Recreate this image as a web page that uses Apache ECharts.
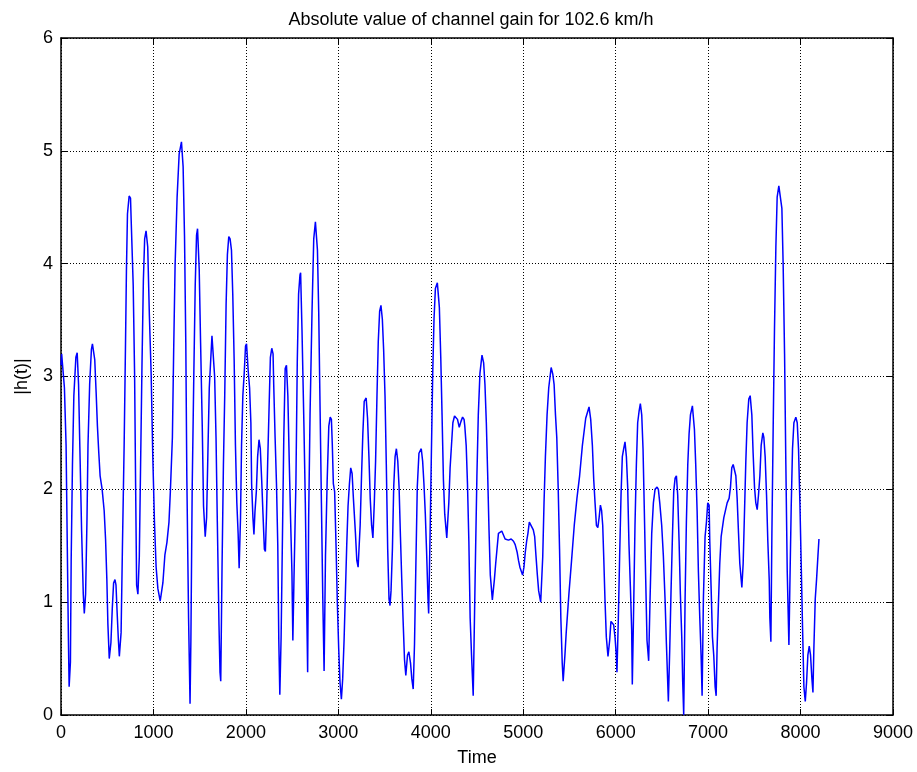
<!DOCTYPE html>
<html>
<head>
<meta charset="utf-8">
<script src="https://cdn.jsdelivr.net/npm/echarts@6/dist/echarts.min.js"></script>
<style>
  html, body { margin: 0; padding: 0; background: #ffffff; }
  #chart { width: 917px; height: 772px; }
</style>
</head>
<body>
<div id="chart"></div>
<script>
// Channel gain magnitude |h(t)| over time samples
const titleText = 'Absolute value of channel gain for 102.6 km/h';
const xName = 'Time';
const yName = '|h(t)|';

const xTicks = [0, 1000, 2000, 3000, 4000, 5000, 6000, 7000, 8000, 9000];
const yTicks = [0, 1, 2, 3, 4, 5, 6];

const time = [
  0,7,37,55,66,80,88,102,110,124, 139,161,175,190,204,223,241,252,266,281,
  292,310,329,340,365,380,394,409,423,445, 467,482,496,507,522,540,555,569,584,595,
  606,621,631,650,664,683,697,708,719,737, 752,759,781,796,807,818,832,847,861,876,
  891,905,920,938,956,975,993,1011,1029,1048, 1073,1102,1124,1146,1168,1183,1205,1219,1234,1256,
  1278,1303,1321,1336,1350,1361,1380,1396,
  1405,1419,1437,1452,1466,1477,1495,1510,1528,1542, 1560,1575,1590,1604,1619,1633,1648,1662,1677,1691,
  1709,1720,1728,1742,1757,1771,1786,1800,1815,1829, 1844,1858,1873,1887,1902,1916,1927,1942,1953,1967,
  1982,1996,2007,2025,2040,2054,2062,2076,2087,2098, 2113,2127,2142,2156,2171,2185,2200,2211,2222,2236,
  2251,2265,2280,2294,2301,2316,2331,2345,2356,2367, 2381,2396,2410,2425,2439,2454,2469,2483,2498,2508,
  2520,2541,2556,2570,2585,2592,2607,2628,2643,2657, 2668,2679,2694,2715,2734,2752,2774,2788,2803,2817,
  2832,2846,2861,2879,2897,2912,
  2925,2935,2946,2960,2975,2989,3004,3018,3033,3047, 3062,3076,3091,3105,3120,3134,3149,3163,3185,3200,
  3214,3236,3251,3265,3280,3301,3316,3331,3345,3360, 3374,3389,3403,3418,3432,3447,3461,3476,3490,3505,
  3519,3534,3548,3559,3570,3585,3599,3614,3628,3643, 3657,3672,3686,3701,3716,3730,3748,3763,3781,3795,
  3810,3824,3839,3854,3872,3897,3912,3926,3941,3955, 3970,3977,3992,4006,4021,4035,4050,4071,4093,4108,
  4122,4137,4151,4173,4195,4209,4224,4239,4257,4289, 4308,4326,4344,4360,
  4368,4383,4397,4412,4426,4441,4459,4470,4485,4499, 4514,4532,4554,4572,4586,4601,4615,4630,4644,4666,
  4688,4702,4732,4768,4804,4840,4870,4895,4913,4935, 4949,4964,4993,5008,5022,5037,5051,5066,5087,5109,
  5124,5138,5153,5167,5189,5211,5225,5240,5258,5276, 5302,5320,5334,5349,5363,5378,5393,5407,5422,5432,
  5451,5465,5494,5523,5552,5581,5610,5640,5676,5712, 5730,5748,5763,5777,5792,5807,5821,
  5835,5848,5860,5872,5884,5899,5917,5935,5949,5964, 5978,5993,6007,6014,6029,6043,6058,6072,6087,6101,
  6116,6130,6144,6159,6173,6180,6195,6209,6224,6238, 6253,6267,6282,6296,6310,6325,6339,6357,6372,6390,
  6408,6426,6448,6462,6477,6498,6516,6534,6549,6570, 6585,6599,6614,6628,6643,6657,6671,6686,6700,6715,
  6725,6736,6751,6765,6780,6794,6809,6830,6838,6852, 6866,6881,6895,6910,6924,6935,6949,6967,6982,6996,
  7011,7018,7032,7047,7061,7076,7087,7097,7112,7126, 7141,7170,7206,7227,7242,7256,
  7271,7282,7300,7314,7329,7343,7365,7379,7394,7408, 7422,7440,7455,7473,7487,7502,7516,7531,7545,7560,
  7574,7592,7603,7617,7632,7646,7661,7668,7679,7690, 7704,7718,7733,7747,7765,7783,7798,7812,7827,7841,
  7856,7874,7884,7899,7913,7928,7949,7964,7978,7993, 8007,8022,8036,8051,8065,8079,8094,8108,8123,8134,
  8144,8159,8173,8188,8199
];

const gain = [
  3.1,3.2,2.9,2.39,1.63,0.68,0.25,0.47,1.37,2.22, 2.83,3.17,3.21,2.93,2.37,1.63,1.07,0.9,1.07,1.73,
  2.39,2.93,3.24,3.29,3.15,2.86,2.56,2.32,2.12,2.0, 1.81,1.56,1.2,0.81,0.5,0.64,0.95,1.17,1.2,1.15,
  0.93,0.66,0.52,0.73,1.46,2.39,3.24,3.95,4.44,4.6, 4.58,4.39,3.81,3.03,2.05,1.15,1.07,1.4,2.22,3.1,
  3.85,4.22,4.29,4.15,3.54,3.03,2.29,1.71,1.31,1.12, 1.01,1.17,1.42,1.53,1.71,1.98,2.46,3.24,3.98,4.59,
  4.97,5.08,4.86,4.25,3.3,2.12,0.86,0.1,
  0.66,2.0,3.03,3.81,4.25,4.31,3.95,3.3,2.56,1.85, 1.58,1.75,2.36,2.9,3.14,3.36,3.37,3.0,2.46,1.71,
  0.8,0.38,0.3,1.31,2.22,2.83,3.64,4.08,4.24,4.22, 4.12,3.73,3.15,2.39,1.88,1.61,1.3,1.75,2.39,2.83,
  3.03,3.27,3.29,3.05,2.9,2.59,2.05,1.75,1.6,1.8, 1.98,2.29,2.44,2.36,2.08,1.78,1.47,1.45,1.75,2.25,
  2.73,3.17,3.25,3.2,2.93,2.46,2.05,1.5,0.66,0.18, 0.69,1.61,2.46,3.07,3.1,2.83,2.25,1.75,1.27,0.66,
  1.2,2.05,3.14,3.73,3.9,3.92,3.41,2.56,1.88,1.03, 0.38,1.75,2.66,3.56,4.22,4.37,4.12,3.56,2.69,1.88,
  1.03,0.39,1.41,2.07,2.56,2.64,
  2.62,2.39,2.05,1.98,1.51,1.0,0.59,0.29,0.14,0.32, 0.66,1.07,1.51,1.85,2.05,2.19,2.14,1.92,1.61,1.37,
  1.31,1.68,2.12,2.49,2.78,2.81,2.63,2.29,1.92,1.68, 1.57,1.88,2.25,2.83,3.31,3.58,3.63,3.51,3.24,2.83,
  2.22,1.47,1.03,0.97,1.1,1.47,2.02,2.29,2.36,2.25, 2.02,1.58,1.2,0.83,0.49,0.35,0.53,0.56,0.46,0.32,
  0.23,0.63,1.34,2.02,2.32,2.36,2.25,2.05,1.78,1.44, 1.03,0.9,1.58,2.29,3.03,3.51,3.78,3.83,3.61,3.17,
  2.66,2.08,1.78,1.57,1.88,2.19,2.39,2.59,2.65,2.62, 2.55,2.6,2.64,2.62,
  2.56,2.39,2.05,1.54,0.86,0.53,0.17,0.73,1.47,2.12, 2.66,3.03,3.19,3.12,2.93,2.59,2.15,1.64,1.24,1.02,
  1.2,1.34,1.61,1.63,1.56,1.55,1.56,1.54,1.51,1.44, 1.37,1.31,1.24,1.31,1.44,1.54,1.61,1.71,1.7,1.64,
  1.58,1.41,1.24,1.1,1.0,1.4,1.88,2.29,2.66,2.9, 3.08,3.02,2.93,2.66,2.46,2.02,1.47,0.86,0.46,0.3,
  0.53,0.73,1.07,1.37,1.68,1.92,2.12,2.39,2.63,2.73, 2.62,2.39,2.08,1.88,1.68,1.66,1.75,
  1.86,1.81,1.68,1.37,1.03,0.69,0.52,0.66,0.83,0.84, 0.8,0.69,0.53,0.38,0.86,1.41,1.95,2.29,2.36,2.42,
  2.29,2.02,1.51,1.14,0.76,0.27,0.97,1.68,2.22,2.59, 2.69,2.76,2.66,2.36,1.81,1.2,0.66,0.48,1.03,1.61,
  1.88,2.0,2.02,2.0,1.88,1.68,1.41,1.03,0.63,0.12, 0.59,1.1,1.58,1.98,2.1,2.12,1.95,1.54,1.07,0.69,
  0.3,0.0,1.03,1.71,2.22,2.49,2.66,2.74,2.73,2.53, 2.22,1.81,1.27,0.86,0.53,0.17,1.03,1.58,1.71,1.88,
  1.86,1.54,1.14,0.69,0.53,0.25,0.17,0.59,1.0,1.34, 1.58,1.75,1.88,1.92,2.02,2.19,
  2.22,2.23,2.12,1.92,1.61,1.34,1.13,1.34,1.81,2.25, 2.59,2.8,2.83,2.66,2.32,2.02,1.88,1.82,1.95,2.12,
  2.39,2.5,2.46,2.29,1.95,1.54,1.2,0.86,0.65,1.61, 2.56,3.42,4.15,4.59,4.69,4.7,4.49,3.98,3.2,2.22,
  1.27,0.62,1.13,1.85,2.36,2.59,2.64,2.59,2.36,1.88, 1.34,0.76,0.25,0.12,0.29,0.53,0.61,0.53,0.32,0.2,
  0.59,1.03,1.2,1.41,1.56
];

const points = time.map((t, i) => [t, gain[i]]);

const font = '"Liberation Sans", Arial, Helvetica, sans-serif';
const textColor = '#000000';
const plainNumber = v => String(v);

const chart = echarts.init(document.getElementById('chart'), null, { renderer: 'canvas' });

const frameLine = { show: true, onZero: false, lineStyle: { color: '#000', width: 1.5 } };
const innerTick = { show: true, inside: true, length: 6, lineStyle: { color: '#000', width: 1 } };
const dottedGrid = { show: true, lineStyle: { color: '#000', width: 1, type: [1, 2] } };

chart.setOption({
  animation: false,
  backgroundColor: '#ffffff',
  title: {
    text: titleText,
    left: 466,
    textAlign: 'center',
    top: 6,
    textStyle: { fontFamily: font, fontSize: 18, fontWeight: 'normal', color: textColor }
  },
  grid: { left: 61, right: 24, top: 38, height: 677, containLabel: false },
  xAxis: [
    {
      type: 'value',
      min: xTicks[0],
      max: xTicks[xTicks.length - 1],
      interval: xTicks[1] - xTicks[0],
      position: 'bottom',
      name: xName,
      nameLocation: 'middle',
      nameGap: 34,
      nameTextStyle: { fontFamily: font, fontSize: 18, color: textColor },
      axisLine: frameLine,
      axisTick: innerTick,
      splitLine: dottedGrid,
      axisLabel: { fontFamily: font, fontSize: 18, color: textColor, margin: 9, formatter: plainNumber }
    },
    {
      type: 'value',
      min: xTicks[0],
      max: xTicks[xTicks.length - 1],
      interval: xTicks[1] - xTicks[0],
      position: 'top',
      axisLine: frameLine,
      axisTick: innerTick,
      splitLine: { show: false },
      axisLabel: { show: false }
    }
  ],
  yAxis: [
    {
      type: 'value',
      min: yTicks[0],
      max: yTicks[yTicks.length - 1],
      interval: yTicks[1] - yTicks[0],
      position: 'left',
      name: yName,
      nameLocation: 'middle',
      nameRotate: 90,
      nameGap: 30,
      nameTextStyle: { fontFamily: font, fontSize: 18, color: textColor },
      axisLine: frameLine,
      axisTick: innerTick,
      splitLine: dottedGrid,
      axisLabel: { fontFamily: font, fontSize: 18, color: textColor, margin: 8, formatter: plainNumber }
    },
    {
      type: 'value',
      min: yTicks[0],
      max: yTicks[yTicks.length - 1],
      interval: yTicks[1] - yTicks[0],
      position: 'right',
      axisLine: frameLine,
      axisTick: innerTick,
      splitLine: { show: false },
      axisLabel: { show: false }
    }
  ],
  series: [
    {
      type: 'line',
      xAxisIndex: 0,
      yAxisIndex: 0,
      data: points,
      showSymbol: false,
      symbol: 'none',
      smooth: false,
      lineStyle: { color: '#0000ff', width: 1.5 },
      z: 3
    }
  ]
});
</script>
</body>
</html>
